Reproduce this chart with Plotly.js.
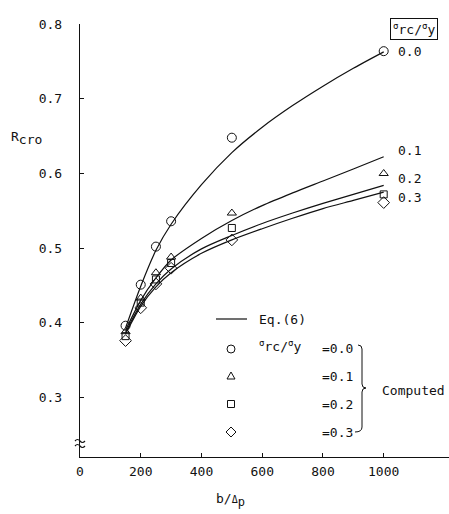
<!DOCTYPE html>
<html><head><meta charset="utf-8">
<script src="https://cdn.plot.ly/plotly-3.0.1.min.js"></script>
<style>html,body{margin:0;padding:0;background:#fff}</style>
</head><body><div id="chart" style="width:449px;height:514px"></div>
<script>
// Computed points (b/Δp vs Rcro)
var xPts = [150, 200, 250, 300, 500, 1000];
var comp00 = [0.396, 0.451, 0.502, 0.536, 0.648, 0.764];
var comp01 = [0.388, 0.433, 0.467, 0.488, 0.547, 0.600];
var comp02 = [0.382, 0.427, 0.458, 0.480, 0.527, 0.572];
var comp03 = [0.376, 0.420, 0.452, 0.473, 0.511, 0.561];
// Eq.(6) curves
var xCurve = [150, 200, 250, 300, 400, 500, 600, 700, 800, 900, 1000];
var eq00 = [0.393, 0.449, 0.497, 0.532, 0.585, 0.628, 0.662, 0.691, 0.717, 0.741, 0.763];
var eq01 = [0.390, 0.430, 0.460, 0.484, 0.513, 0.537, 0.557, 0.574, 0.590, 0.606, 0.6225];
var eq02 = [0.387, 0.425, 0.452, 0.472, 0.499, 0.517, 0.533, 0.547, 0.560, 0.572, 0.584];
var eq03 = [0.385, 0.422, 0.448, 0.467, 0.493, 0.511, 0.526, 0.540, 0.553, 0.564, 0.575];
var xTicks = [0, 200, 400, 600, 800, 1000];
var yTicks = [0.3, 0.4, 0.5, 0.6, 0.7, 0.8];
var curveLabels = ["0.0", "0.1", "0.2", "0.3"];
var legendValues = ["=0.0", "=0.1", "=0.2", "=0.3"];

var FONT = "DejaVu Sans Mono, monospace";
var INK = "#111";
var L = 80, T = 24, W = 449, H = 514, R = 0, B = 57;
var PW = W - L - R, PH = H - T - B;
function px(x) { return (x - L) / PW; }
function py(y) { return (H - B - y) / PH; }

function curve(y) {
  return {x: xCurve, y: y, mode: "lines", line: {color: INK, width: 1.2, shape: "spline", smoothing: 0.8}, hoverinfo: "skip"};
}
function pts(y, sym, size) {
  return {x: xPts, y: y, mode: "markers", marker: {symbol: sym, size: size, color: INK, line: {color: INK, width: 1}}, cliponaxis: false};
}
var data = [curve(eq00), curve(eq01), curve(eq02), curve(eq03),
  pts(comp00, "circle-open", 9), pts(comp01, "triangle-up-open", 8),
  pts(comp02, "square-open", 7), pts(comp03, "diamond-open", 9)];

function ann(x, y, text, xa, extra) {
  var a = {xref: "paper", yref: "paper", x: px(x), y: py(y), text: text, showarrow: false,
    xanchor: xa || "left", yanchor: "middle", font: {family: FONT, size: 13, color: INK}};
  for (var k in extra) a[k] = extra[k];
  return a;
}
var sig = "<sup>σ</sup>rc/<sup>σ</sup>y";
var annotations = [
  ann(257, 319, "Eq.(6)"),
  ann(257, 346, sig),
  ann(380, 390, "Computed"),
  ann(414, 29, sig, "center", {bordercolor: INK, borderwidth: 1, borderpad: 2}),
  ann(9, 138, "R<sub><span style='font-size:13px'>cro</span></sub>"),
  ann(230, 500, "b/<span style='font-size:10px'>Δ</span><sub><span style='font-size:12px'>p</span></sub>", "center")
];
var lvY = [348, 376, 404, 432];
legendValues.forEach(function (t, i) { annotations.push(ann(320, lvY[i], t)); });
var clY = [52, 150, 179, 197];
curveLabels.forEach(function (t, i) { annotations.push(ann(396, clY[i], t)); });

function shp(type, x, y, extra) {
  var s = {type: type, xref: "paper", yref: "paper", xsizemode: "pixel", ysizemode: "pixel",
    xanchor: px(x), yanchor: py(y), line: {color: INK, width: 1}};
  for (var k in extra) s[k] = extra[k];
  return s;
}
var shapes = [
  {type: "line", xref: "paper", yref: "paper", x0: px(216), x1: px(247), y0: py(319), y1: py(319), line: {color: INK, width: 1.2}},
  shp("circle", 231, 349, {x0: -4, x1: 4, y0: -4, y1: 4}),
  shp("path", 231, 376, {path: "M -4,-3 L 4,-3 L 0,4 Z"}),
  shp("rect", 231, 404, {x0: -3.5, x1: 3.5, y0: -3.5, y1: 3.5}),
  shp("path", 231, 432, {path: "M -5,0 L 0,5 L 5,0 L 0,-5 Z"}),
  shp("path", 358, 345, {path: "M 0,0 Q 4,0 4,-4 L 4,-39 Q 4,-43 8,-43 Q 4,-43 4,-47 L 4,-82 Q 4,-87 -3,-87"}),
  // axis break mark
  shp("path", 80, 444, {path: "M -5,3 Q -2.5,6 0,3 Q 2.5,0 5,3", line: {color: INK, width: 1.2}}),
  shp("path", 80, 444, {path: "M -5,-2 Q -2.5,1 0,-2 Q 2.5,-5 5,-2", line: {color: INK, width: 1.2}})
];

var layout = {
  width: W, height: H, margin: {l: L, r: R, t: T, b: B},
  paper_bgcolor: "#fff", plot_bgcolor: "#fff", showlegend: false,
  font: {family: FONT, size: 13, color: INK},
  xaxis: {range: [0, 1215], tickvals: xTicks, ticktext: xTicks.map(String), ticks: "inside", ticklen: 4,
    tickcolor: INK, showline: true, linecolor: INK, linewidth: 1.2, showgrid: false, zeroline: false,
    ticklabelstandoff: 2, tickfont: {family: FONT, size: 13, color: INK}},
  yaxis: {range: [0.22, 0.8004], tickvals: yTicks, ticktext: yTicks.map(function (v) { return v.toFixed(1); }),
    ticks: "inside", ticklen: 4, tickcolor: INK, showline: true, linecolor: INK, linewidth: 1.2,
    showgrid: false, zeroline: false, ticklabelstandoff: 14, tickfont: {family: FONT, size: 13, color: INK}},
  annotations: annotations, shapes: shapes
};
Plotly.newPlot("chart", data, layout, {staticPlot: true, displayModeBar: false});
</script></body></html>
